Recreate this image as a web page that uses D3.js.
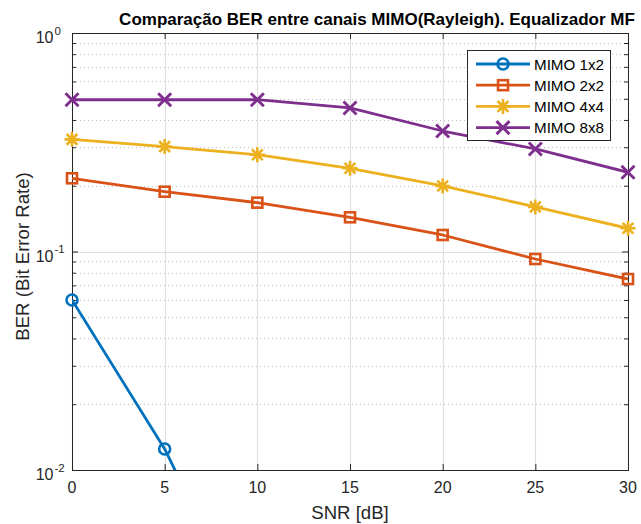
<!DOCTYPE html>
<html><head><meta charset="utf-8">
<script src="https://cdn.jsdelivr.net/npm/d3@7"></script>
<style>body{margin:0;background:#fff}svg{display:block}text{font-family:"Liberation Sans",Arial,sans-serif}</style>
</head><body><svg id="c" width="641" height="524"></svg>
<script>
const snr = [0, 5, 10, 15, 20, 25, 30];
const mimo1x2 = [0.060, 0.01248, 0.0017];
const mimo2x2 = [0.2163, 0.1878, 0.1673, 0.1434, 0.119, 0.0924, 0.0748];
const mimo4x4 = [0.326, 0.302, 0.2773, 0.2404, 0.1995, 0.160, 0.1277];
const mimo8x8 = [0.495, 0.495, 0.495, 0.454, 0.356, 0.2946, 0.2304];
const seriesNames = ["MIMO 1x2", "MIMO 2x2", "MIMO 4x4", "MIMO 8x8"];
const xTicks = [0, 5, 10, 15, 20, 25, 30];
const yTickExps = [0, -1, -2];

const colors = ["#0072BD", "#D95319", "#EDB120", "#7E2F8E"];
const markers = ["circle", "square", "asterisk", "cross"];
const seriesVals = [mimo1x2, mimo2x2, mimo4x4, mimo8x8];

const L = 72, R = 628, T = 33, B = 470;
const svg = d3.select("#c");
const x = d3.scaleLinear().domain([0, 30]).range([L, R]);
const y = d3.scaleLog().domain([0.01, 1]).range([B, T]);

// grid
const g = svg.append("g");
const minorVals = [];
for (let e = -2; e < 0; e++) for (let m = 2; m <= 9; m++) minorVals.push(m * Math.pow(10, e));
g.selectAll(".ming").data(minorVals).join("line")
  .attr("x1", L).attr("x2", R).attr("y1", d => Math.round(y(d)) + 0.5).attr("y2", d => Math.round(y(d)) + 0.5)
  .attr("stroke", "#bdbdbd").attr("stroke-width", 1).attr("stroke-dasharray", "1,3");
g.selectAll(".xg").data(xTicks).join("line")
  .attr("x1", d => Math.round(x(d)) + 0.5).attr("x2", d => Math.round(x(d)) + 0.5).attr("y1", T).attr("y2", B)
  .attr("stroke", "#e0e0e0").attr("stroke-width", 1.2);
g.selectAll(".yg").data(yTickExps).join("line")
  .attr("x1", L).attr("x2", R).attr("y1", d => Math.round(y(Math.pow(10, d))) + 0.5).attr("y2", d => Math.round(y(Math.pow(10, d))) + 0.5)
  .attr("stroke", "#e0e0e0").attr("stroke-width", 1.2);

// ticks (inside, on all sides) via axes
const axCol = "#262626";
const xb = svg.append("g").attr("transform", `translate(0,${B})`)
  .call(d3.axisBottom(x).tickValues(xTicks).tickSize(-6).tickFormat(""));
const xt = svg.append("g").attr("transform", `translate(0,${T})`)
  .call(d3.axisTop(x).tickValues(xTicks).tickSize(-6).tickFormat(""));
const yl = svg.append("g").attr("transform", `translate(${L},0)`)
  .call(d3.axisLeft(y).tickValues(yTickExps.map(e => Math.pow(10, e))).tickSize(-6).tickFormat(""));
const yr = svg.append("g").attr("transform", `translate(${R},0)`)
  .call(d3.axisRight(y).tickValues(yTickExps.map(e => Math.pow(10, e))).tickSize(-6).tickFormat(""));
const ylm = svg.append("g").attr("transform", `translate(${L},0)`)
  .call(d3.axisLeft(y).tickValues(minorVals).tickSize(-4).tickFormat(""));
const yrm = svg.append("g").attr("transform", `translate(${R},0)`)
  .call(d3.axisRight(y).tickValues(minorVals).tickSize(-4).tickFormat(""));
[xb, xt, yl, yr, ylm, yrm].forEach(a => {
  a.select(".domain").remove();
  a.selectAll("line").attr("stroke", axCol).attr("stroke-width", 1);
});
svg.append("rect").attr("x", L + 0.5).attr("y", T + 0.5).attr("width", R - L).attr("height", B - T)
  .attr("fill", "none").attr("stroke", axCol).attr("stroke-width", 1);

// tick labels
svg.selectAll(".xl").data(xTicks).join("text")
  .attr("x", d => x(d)).attr("y", 493).attr("text-anchor", "middle")
  .attr("font-size", 16).attr("fill", axCol).text(d => d);
svg.selectAll(".yl10").data(yTickExps).join("text")
  .attr("x", 53.5).attr("y", d => y(Math.pow(10, d)) + 10).attr("text-anchor", "end")
  .attr("font-size", 16).attr("fill", axCol).text("10");
svg.selectAll(".ylexp").data(yTickExps).join("text")
  .attr("x", 54.5).attr("y", d => y(Math.pow(10, d)) + 1.5).attr("text-anchor", "start")
  .attr("font-size", 11.5).attr("fill", axCol).text(d => d);

// axis titles
svg.append("text").attr("x", (L + R) / 2).attr("y", 518.5).attr("text-anchor", "middle")
  .attr("font-size", 18.6).attr("fill", axCol).text("SNR [dB]");
svg.append("text").attr("transform", `translate(29,${(T + B) / 2 + 5}) rotate(-90)`).attr("text-anchor", "middle")
  .attr("font-size", 18.6).attr("fill", axCol).text("BER (Bit Error Rate)");
svg.append("text").attr("x", 377).attr("y", 25).attr("text-anchor", "middle")
  .attr("font-size", 17).attr("font-weight", "bold").attr("fill", "#000")
  .text("Comparação BER entre canais MIMO(Rayleigh). Equalizador MF");

// clip
svg.append("clipPath").attr("id", "clip").append("rect").attr("x", L).attr("y", T).attr("width", R - L).attr("height", B - T);

function drawMarker(sel, type, color) {
  if (type === "circle") {
    sel.append("circle").attr("r", 5.5).attr("fill", "none").attr("stroke", color).attr("stroke-width", 2.6);
  } else if (type === "square") {
    sel.append("rect").attr("x", -5).attr("y", -5).attr("width", 10).attr("height", 10)
      .attr("fill", "none").attr("stroke", color).attr("stroke-width", 2.6);
  } else if (type === "asterisk") {
    const s = 7.5;
    sel.append("path").attr("d", `M${-s},0H${s}M0,${-s}V${s}M${-s*0.72},${-s*0.72}L${s*0.72},${s*0.72}M${-s*0.72},${s*0.72}L${s*0.72},${-s*0.72}`)
      .attr("stroke", color).attr("stroke-width", 2.6).attr("fill", "none");
  } else {
    const s = 6.5;
    sel.append("path").attr("d", `M${-s},${-s}L${s},${s}M${-s},${s}L${s},${-s}`)
      .attr("stroke", color).attr("stroke-width", 2.9).attr("fill", "none");
  }
}

const line = d3.line().x(d => x(d[0])).y(d => y(d[1]));
seriesVals.forEach((vals, i) => {
  const pts = vals.map((v, j) => [snr[j], v]);
  svg.append("path").attr("d", line(pts)).attr("clip-path", "url(#clip)")
    .attr("fill", "none").attr("stroke", colors[i]).attr("stroke-width", 2.8).attr("stroke-linejoin", "round");
  pts.filter(p => p[1] >= 0.01 && p[1] <= 1).forEach(p => {
    const m = svg.append("g").attr("transform", `translate(${x(p[0])},${y(p[1])})`);
    drawMarker(m, markers[i], colors[i]);
  });
});

// legend
const lg = svg.append("g");
lg.append("rect").attr("x", 467.5).attr("y", 50.5).attr("width", 143).attr("height", 90)
  .attr("fill", "#fff").attr("stroke", axCol).attr("stroke-width", 1);
seriesNames.forEach((name, i) => {
  const yy = 64 + i * 21.2;
  lg.append("line").attr("x1", 476).attr("x2", 530).attr("y1", yy).attr("y2", yy)
    .attr("stroke", colors[i]).attr("stroke-width", 2.8);
  const m = lg.append("g").attr("transform", `translate(503,${yy})`);
  drawMarker(m, markers[i], colors[i]);
  lg.append("text").attr("x", 534).attr("y", yy + 5.5).attr("font-size", 15.2).attr("fill", "#000").text(name);
});
</script></body></html>
